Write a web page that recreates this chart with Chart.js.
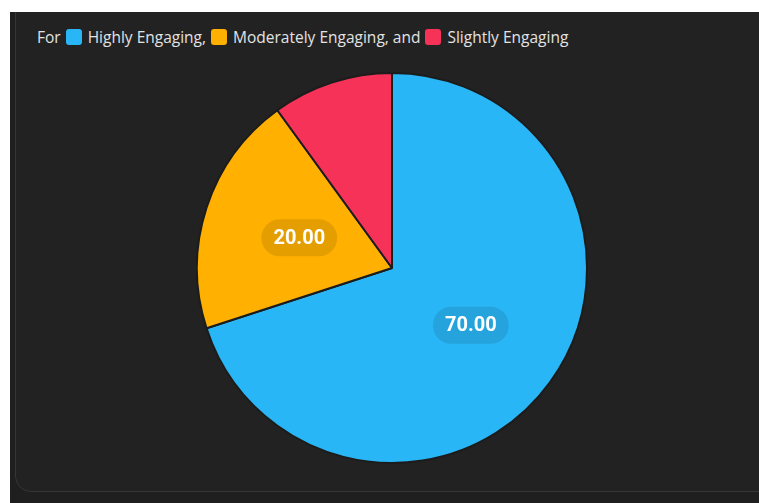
<!DOCTYPE html>
<html>
<head>
<meta charset="utf-8">
<script src="https://cdn.jsdelivr.net/npm/chart.js@4"></script>
<style>
  html, body { margin: 0; padding: 0; background: #fff; width: 759px; height: 503px; overflow: hidden; }
  .outer { position: absolute; left: 10px; top: 12px; width: 749px; height: 491px; background: #1f1f1f; overflow: hidden; }
  .card { position: absolute; left: 5px; top: -20px; width: 760px; height: 498px; background: #222; border: 1px solid #363636; border-radius: 16px; }
  .legend { position: absolute; left: 37px; top: 26px; display: flex; align-items: center; font: 15.5px "Open Sans", sans-serif; color: #e2e2e2; white-space: pre; }
  .legend .box { display: inline-block; width: 16px; height: 16px; border-radius: 3px; margin: 0 6px 0 5px; }
  .pie { position: absolute; left: 196px; top: 72px; width: 392px; height: 392px; }
</style>
</head>
<body>
<div class="outer"><div class="card"></div></div>
<div class="legend" id="legend"></div>
<div class="pie"><canvas id="chart"></canvas></div>
<script>
// data
const labels = ['Highly Engaging', 'Moderately Engaging', 'Slightly Engaging'];
const values = [70, 20, 10];
const colors = ['#29b6f6', '#ffb000', '#f73258'];

// legend: "For ■ A, ■ B, and ■ C"
const legend = document.getElementById('legend');
let html = '<span>For</span>';
labels.forEach((l, i) => {
  const sep = i < labels.length - 2 ? ',' : (i === labels.length - 2 ? ', and' : '');
  html += `<span class="box" style="background:${colors[i]}"></span><span>${l}${sep}</span>`;
});
legend.innerHTML = html;

// pill labels drawn on each slice
const pillLabels = {
  id: 'pillLabels',
  afterDatasetsDraw(chart) {
    const ctx = chart.ctx;
    const meta = chart.getDatasetMeta(0);
    ctx.save();
    ctx.font = 'bold 20px Roboto, sans-serif';
    ctx.textAlign = 'center';
    ctx.textBaseline = 'middle';
    meta.data.forEach((arc, i) => {
      const v = values[i];
      if (v <= 10) return;
      const p = arc.tooltipPosition();
      const txt = v.toFixed(2);
      const w = ctx.measureText(txt).width + 24, h = 37, r = 18;
      ctx.fillStyle = 'rgba(0,0,0,0.1)';
      ctx.beginPath();
      ctx.roundRect(p.x - w / 2, p.y - h / 2, w, h, r);
      ctx.fill();
      ctx.fillStyle = '#fff';
      ctx.fillText(txt, p.x, p.y + 1);
    });
    ctx.restore();
  }
};

new Chart(document.getElementById('chart'), {
  type: 'pie',
  data: {
    labels,
    datasets: [{
      data: values,
      backgroundColor: colors,
      borderColor: '#1c1c1c',
      borderWidth: 2,
    }],
  },
  options: {
    responsive: true,
    maintainAspectRatio: false,
    animation: false,
    plugins: { legend: { display: false }, tooltip: { enabled: false } },
  },
  plugins: [pillLabels],
});
</script>
</body>
</html>
